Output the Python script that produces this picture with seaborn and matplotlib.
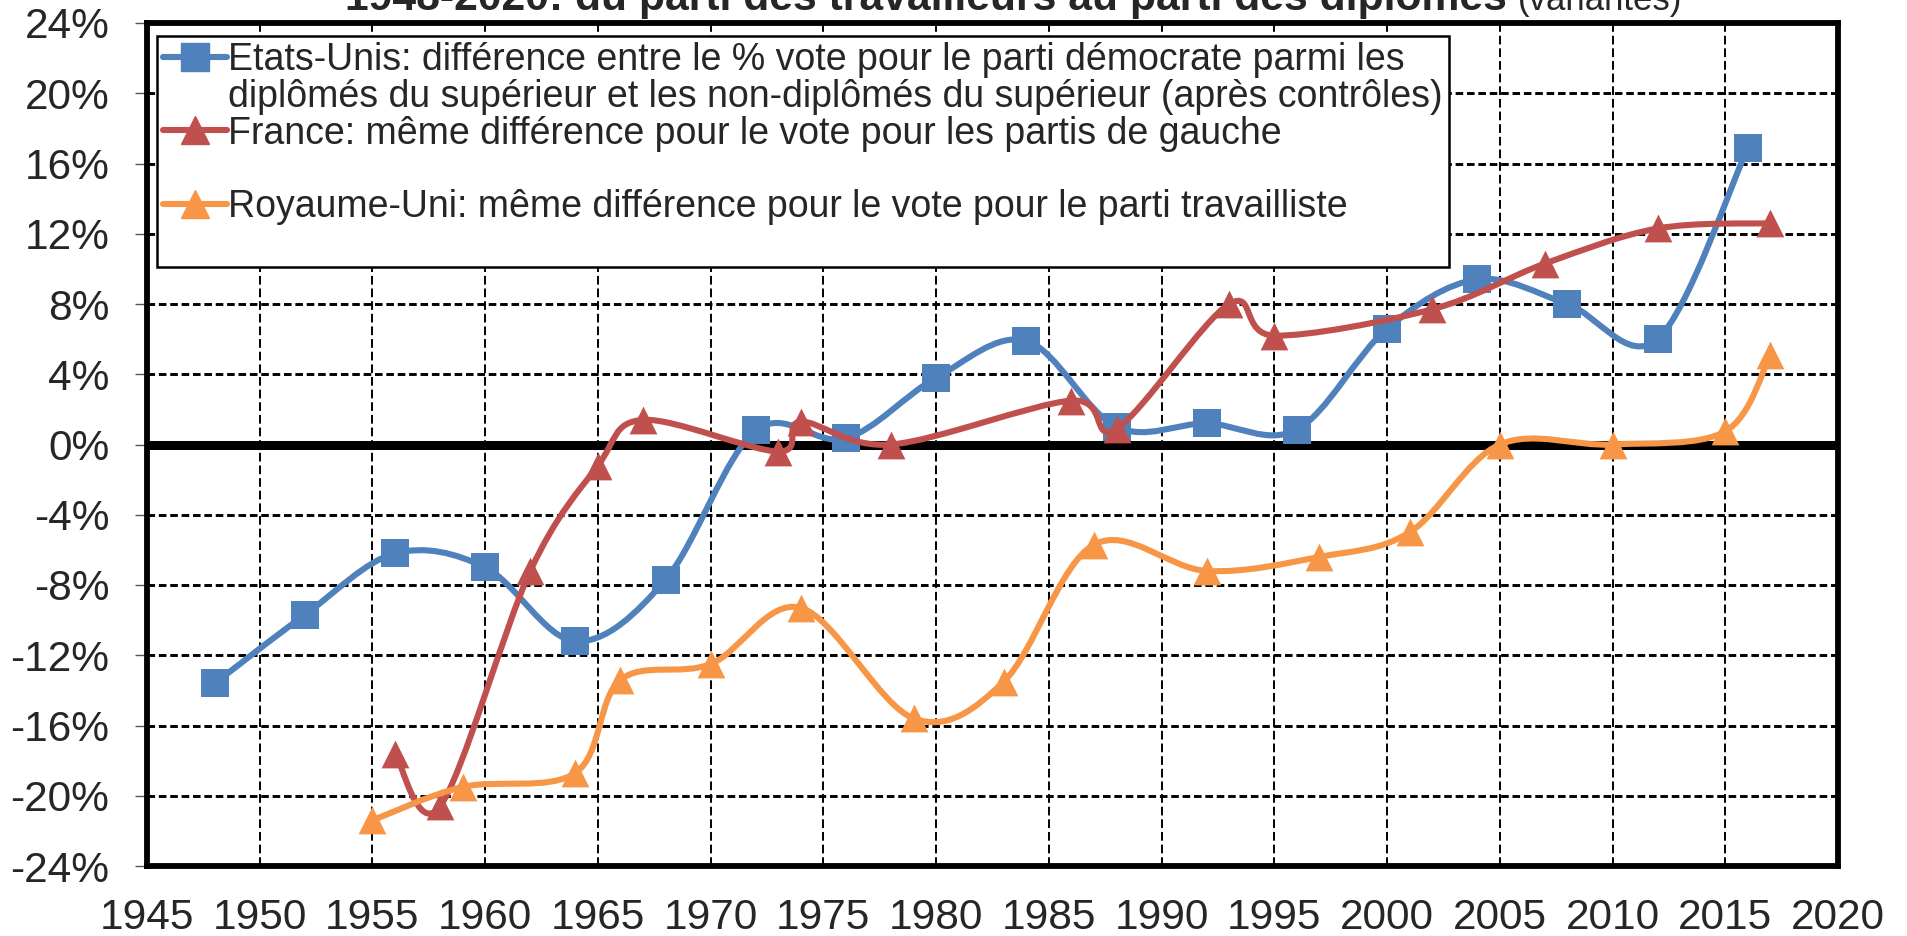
import matplotlib
matplotlib.use("Agg")
from matplotlib import pyplot as plt
from matplotlib.path import Path
from matplotlib.patches import PathPatch
from matplotlib.lines import Line2D
import seaborn as sns

# Etats-Unis (squares)
us_years = [1948, 1952, 1956, 1960, 1964, 1968, 1972, 1976, 1980, 1984, 1988, 1992, 1996, 2000, 2004, 2008, 2012, 2016]
us_values = [-13.6, -9.7, -6.2, -7.0, -11.2, -7.7, 0.8, 0.35, 3.8, 5.9, 1.0, 1.2, 0.85, 6.6, 9.4, 8.0, 6.0, 16.9]

# France (triangles)
fr_years = [1956, 1958, 1962, 1965, 1967, 1973, 1974, 1978, 1986, 1988, 1993, 1995, 2002, 2007, 2012, 2017]
fr_values = [-17.6, -20.6, -7.2, -1.2, 1.4, -0.4, 1.3, 0.0, 2.5, 0.9, 8.0, 6.2, 7.7, 10.3, 12.3, 12.6]

# Royaume-Uni (triangles)
uk_years = [1955, 1959, 1964, 1966, 1970, 1974, 1979, 1983, 1987, 1992, 1997, 2001, 2005, 2010, 2015, 2017]
uk_values = [-21.4, -19.5, -18.7, -13.4, -12.5, -9.3, -15.6, -13.5, -5.7, -7.2, -6.4, -5.0, 0.0, 0.0, 0.75, 5.1]

x_ticks = [1945, 1950, 1955, 1960, 1965, 1970, 1975, 1980, 1985, 1990, 1995, 2000, 2005, 2010, 2015, 2020]
y_ticks = [-24, -20, -16, -12, -8, -4, 0, 4, 8, 12, 16, 20, 24]
y_labels = ['-24%', '-20%', '-16%', '-12%', '-8%', '-4%', '0%', '4%', '8%', '12%', '16%', '20%', '24%']

labels = [
    'Etats-Unis: différence entre le % vote pour le parti démocrate parmi les',
    'diplômés du supérieur et les non-diplômés du supérieur (après contrôles)',
    'France: même différence pour le vote pour les partis de gauche',
    'Royaume-Uni: même différence pour le vote pour le parti travailliste',
]
title_bold = '1948-2020: du parti des travailleurs au parti des diplômés'
title_light = '(variantes)'

BLUE, RED, ORANGE = '#4F81BD', '#C0504D', '#F79646'

sns.set_style('white')
plt.rcParams['font.family'] = ['Liberation Sans', 'DejaVu Sans']

W, H = 1907, 936
fig = plt.figure(figsize=(W / 100, H / 100), dpi=100)
ax = fig.add_axes([147 / W, 1 - 866 / H, (1838 - 147) / W, (866 - 23) / H])


def smooth_path(xs, ys):
    # Excel-style smoothed line: cubic Bezier through every point
    pts = list(zip(xs, ys))
    verts = [pts[0]]
    codes = [Path.MOVETO]
    n = len(pts)
    for i in range(n - 1):
        p0 = pts[i - 1] if i > 0 else pts[i]
        p1 = pts[i]
        p2 = pts[i + 1]
        p3 = pts[i + 2] if i + 2 < n else pts[i + 1]
        c1 = (p1[0] + (p2[0] - p0[0]) / 6, p1[1] + (p2[1] - p0[1]) / 6)
        c2 = (p2[0] - (p3[0] - p1[0]) / 6, p2[1] - (p3[1] - p1[1]) / 6)
        verts += [c1, c2, p2]
        codes += [Path.CURVE4] * 3
    return Path(verts, codes)


LW = 4.4
MS = 20
series = [
    (us_years, us_values, BLUE, 's', 3),
    (fr_years, fr_values, RED, '^', 4),
    (uk_years, uk_values, ORANGE, '^', 5),
]
for xs, ys, color, marker, z in series:
    ax.add_patch(PathPatch(smooth_path(xs, ys), fill=False, edgecolor=color, lw=LW,
                           capstyle='round', joinstyle='round', zorder=z))
    sns.scatterplot(x=xs, y=ys, marker=marker, color=color, s=MS ** 2, linewidth=0,
                    zorder=z + 0.5, ax=ax, legend=False)

ax.axhline(0, color='black', lw=6.5, zorder=2.5)

ax.set_xlim(1945, 2020)
ax.set_ylim(-24, 24)
ax.set_xticks(x_ticks)
ax.set_xticklabels([str(v) for v in x_ticks])
ax.set_yticks(y_ticks)
ax.set_yticklabels(y_labels)
ax.tick_params(axis='x', length=0, pad=23, labelsize=30.5)
ax.tick_params(axis='y', length=9, width=1, color='#555555', pad=18, labelsize=30.5, left=True)

ax.grid(True, axis='x', color='black', lw=1.4, linestyle=(0, (4.5, 2)), zorder=1)
ax.grid(True, axis='y', color='black', lw=2.1, linestyle=(0, (2.6, 1.3)), zorder=1)
ax.set_axisbelow(True)
for sp in ax.spines.values():
    sp.set_visible(True)
    sp.set_color('black')
    sp.set_linewidth(4.2)

blank = Line2D([], [], linestyle='none')
handles = [
    Line2D([], [], color=BLUE, lw=LW, marker='s', markersize=MS, solid_capstyle='round'),
    blank,
    Line2D([], [], color=RED, lw=LW, marker='^', markersize=MS, solid_capstyle='round'),
    blank,
    Line2D([], [], color=ORANGE, lw=LW, marker='^', markersize=MS, solid_capstyle='round'),
    blank,
]
leg_labels = [labels[0], labels[1], labels[2], '', labels[3], '']
leg = ax.legend(handles, leg_labels, loc='upper left', bbox_to_anchor=(0.006, 0.984),
                borderaxespad=0, fontsize=27, labelspacing=0.02, handlelength=1.7,
                handletextpad=0.05, borderpad=0.15, frameon=True, fancybox=False)
leg.get_frame().set_edgecolor('black')
leg.get_frame().set_linewidth(1.8)
leg.get_frame().set_alpha(1)
leg.set_zorder(10)

fig.text(1507 / W, 1 - 10 / H, title_bold, ha='right', va='baseline',
         fontsize=30.7, fontweight='bold')
fig.text(1518 / W, 1 - 10 / H, title_light, ha='left', va='baseline', fontsize=25)

fig.savefig('out.png', dpi=100)
